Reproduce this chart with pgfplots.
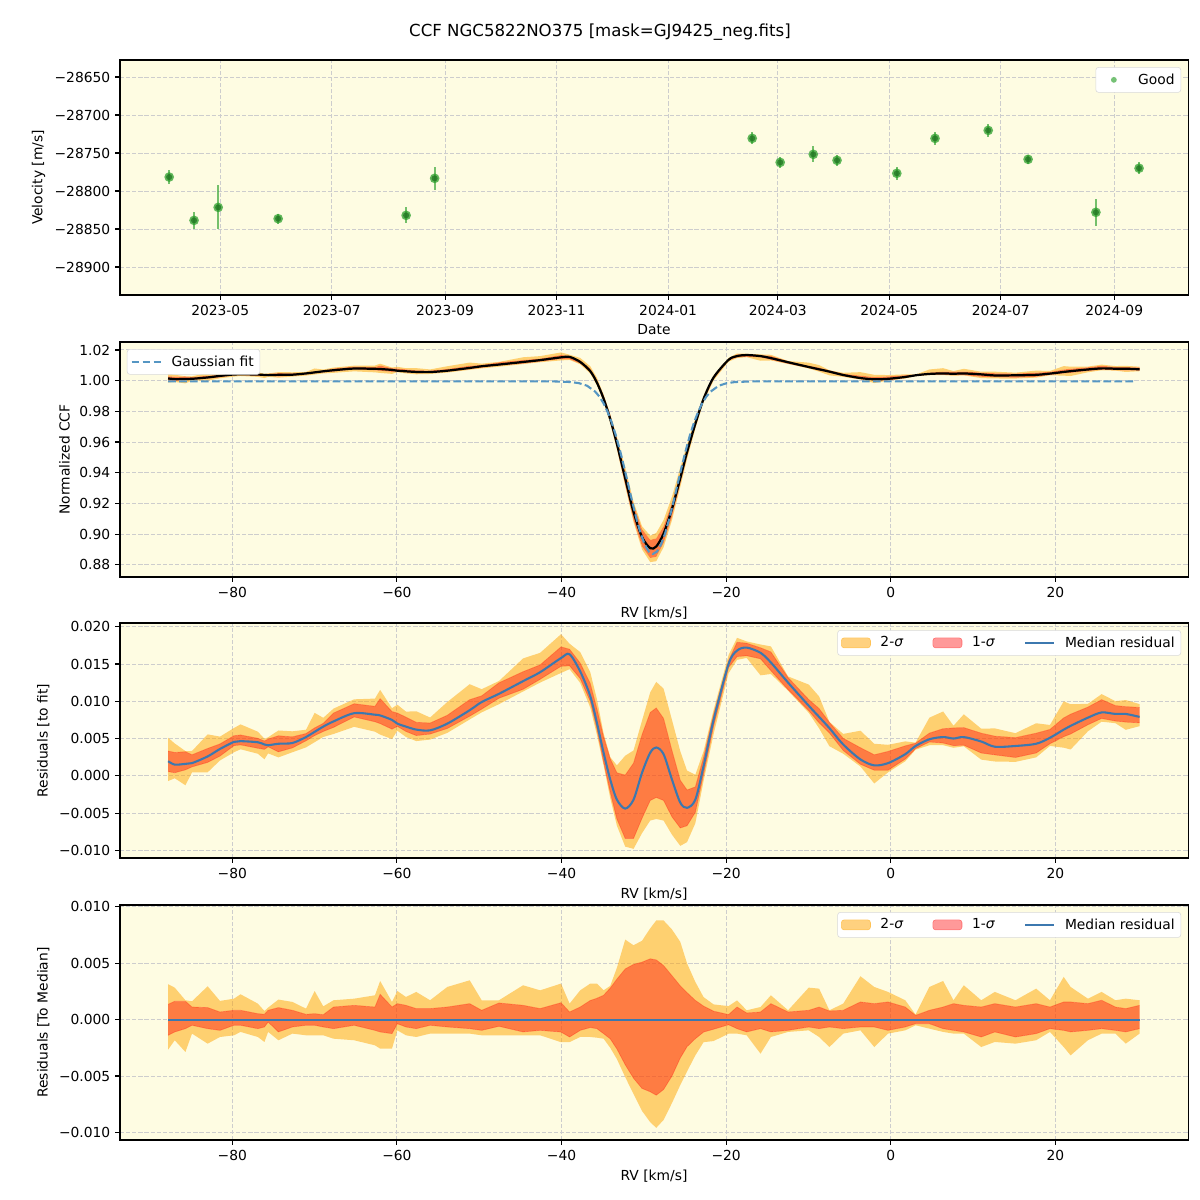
\documentclass[border=0pt]{standalone}
\usepackage{fontspec}
\setmainfont{DejaVu Sans}
\usepackage{pgfplots}
\pgfplotsset{compat=1.18}
\usepackage{pgfplotstable}

\definecolor{bgy}{RGB}{254,252,226}
\definecolor{gridc}{RGB}{205,205,205}
\definecolor{mplgreen}{RGB}{44,160,44}
\definecolor{medblue}{RGB}{60,120,175}
\definecolor{fitblue}{RGB}{85,150,195}
\definecolor{mplorange}{RGB}{255,165,0}
\definecolor{midc}{RGB}{255,71,0}

\pgfplotstableread{
d v e
92.1 -28781.6 9
105.7 -28838.6 11
118.9 -28821.5 29
151.7 -28836.4 6.6
221.7 -28832.0 10.5
237.3 -28783.3 15
411.0 -28730.7 8
426.3 -28762.3 7.7
444.4 -28751.7 10.3
457.4 -28759.6 7.5
490.1 -28776.7 8.6
511.0 -28730.7 8.3
540.1 -28720.2 9
561.9 -28758.3 5.7
599.0 -28828.0 18
622.6 -28770.0 7.9
}\vel

\pgfplotstableread{
x med u2 u1 l1 l2 g
-87.8 1.96 3.14 1.36 -1.39 -2.66 0.9995
-87.0 1.5 2.84 1.63 -1.09 -1.83 0.9995
-85.7 1.6 1.72 1.63 -0.80 -2.87 0.9995
-84.9 1.7 1.63 1.12 -0.50 -1.24 0.9995
-83.0 2.6 2.96 1.07 -0.80 -2.13 0.9995
-81.5 3.6 1.66 0.68 -0.95 -1.54 0.9995
-79.8 4.55 1.86 0.83 -0.50 -1.39 0.9995
-79.0 4.65 2.25 0.83 -0.50 -1.09 0.9995
-76.9 4.5 1.42 0.53 -0.80 -1.54 0.9995
-76.1 4.2 0.77 0.47 -0.65 -1.98 0.9995
-75.65 4.1 1.07 0.83 -0.21 -1.09 0.9995
-74.4 4.3 1.78 1.07 -1.09 -1.83 0.9995
-72.7 4.4 1.57 0.83 -0.65 -1.24 0.9995
-71.05 5.2 0.98 0.47 -0.50 -1.39 0.9995
-70.0 5.9 2.54 0.53 -0.50 -1.39 0.9995
-68.95 6.6 1.18 0.44 -0.65 -1.39 0.9995
-67.7 7.3 1.72 1.12 -0.80 -1.69 0.9995
-65.2 8.4 1.86 1.27 -0.50 -1.83 0.9995
-62.67 8.2 2.16 1.12 -0.95 -2.28 0.9995
-62.04 8.1 3.43 2.25 -1.09 -2.57 0.9995
-60.6 7.5 1.57 1.12 -1.24 -2.57 0.9995
-59.95 7.0 2.54 1.42 -0.36 -0.95 0.9995
-58.9 6.6 2.01 1.27 -0.65 -1.39 0.9995
-57.65 6.2 2.46 0.98 -0.80 -1.54 0.9995
-55.97 6.1 1.72 0.98 -0.50 -1.24 0.9995
-53.88 7.0 2.90 1.12 -0.65 -1.24 0.9995
-51.16 8.8 3.49 1.42 -0.80 -1.24 0.9995
-49.7 9.9 1.72 0.83 -0.95 -1.39 0.9995
-47.6 11.0 1.72 1.48 -0.59 -1.39 0.9995
-44.67 12.7 3.05 1.27 -1.09 -1.39 0.9995
-42.6 13.9 2.60 0.98 -0.95 -1.39 0.9995
-40.06 15.8 3.2 1.5 -1.1 -2.0 0.9994
-39.02 16.3 1.42 0.68 -1.54 -1.99 0.9992
-37.73 14.0 2.6 1.12 -0.95 -1.54 0.9982
-36.51 10.7 3.2 1.7 -0.7 -1.54 0.9955
-35.70 7.1 3.2 1.9 -0.8 -1.6 0.9916
-34.89 3.1 2.6 2.16 -1.24 -1.69 0.9852
-34.08 -0.5 3.0 2.8 -1.7 -2.5 0.9754
-33.27 -3.2 4.6 3.6 -2.6 -3.5 0.9620
-32.26 -4.4 7.1 4.5 -4.0 -5.1 0.9407
-31.25 -3.2 6.6 4.9 -5.2 -6.6 0.9176
-30.22 0.4 7.0 5.1 -6.1 -8.1 0.8977
-29.22 3.1 8.1 5.4 -6.4 -9.1 0.8877
-28.49 3.8 8.8 5.3 -6.7 -9.6 0.8881
-27.60 2.9 8.8 4.8 -6.2 -8.9 0.8974
-26.58 -0.5 8.0 3.9 -5.0 -7.4 0.9169
-25.57 -3.6 6.9 3.0 -3.4 -5.8 0.9400
-24.75 -4.3 5.0 2.4 -2.4 -4.6 0.9577
-23.74 -3.2 3.34 1.71 -1.69 -3.17 0.9751
-22.74 1.3 2.0 1.2 -1.1 -2.0 0.9868
-21.52 7.5 1.35 0.75 -0.85 -1.9 0.9946
-19.7 15.0 1.2 0.45 -0.45 -1.24 0.9986
-18.67 16.8 1.71 1.12 -0.8 -1.24 0.9992
-17.5 17.2 0.83 0.59 -1.09 -1.39 0.9995
-15.82 16.5 1.12 0.68 -0.80 -3.02 0.9995
-14.56 15.2 2.16 1.42 -1.09 -1.54 0.9995
-12.47 12.5 0.83 0.68 -0.95 -1.09 0.9995
-9.96 9.4 2.84 0.83 -0.65 -0.95 0.9995
-8.7 7.9 2.75 1.12 -0.80 -1.54 0.9995
-7.45 6.4 0.83 0.77 -0.65 -2.43 0.9995
-5.77 4.2 1.42 0.83 -0.80 -1.24 0.9995
-3.68 2.2 3.85 1.57 -0.65 -0.95 0.9995
-2.0 1.4 2.90 1.42 -0.65 -2.43 0.9995
-0.33 1.7 2.46 1.57 -0.95 -1.24 0.9995
1.77 2.9 1.72 1.12 -0.65 -0.95 0.9995
3.02 4.0 0.45 0.38 -0.36 -0.50 0.9995
4.7 4.9 2.90 0.83 -0.36 -0.80 0.9995
6.37 5.2 3.43 1.12 -0.80 -1.09 0.9995
7.63 5.0 1.72 1.42 -0.95 -1.24 0.9995
8.88 5.2 3.05 1.27 -1.09 -1.24 0.9995
11.0 4.6 1.72 1.12 -1.54 -2.43 0.9995
12.65 3.9 2.46 1.42 -1.09 -1.98 0.9995
15.16 4.0 1.72 1.12 -1.54 -2.13 0.9995
17.67 4.3 2.75 1.42 -1.24 -1.83 0.9995
19.35 5.1 1.72 1.12 -0.80 -1.09 0.9995
21.02 6.2 3.79 1.57 -0.95 -2.43 0.9995
21.86 6.7 2.90 1.57 -1.09 -3.17 0.9995
23.96 7.8 1.86 1.42 -0.95 -1.83 0.9995
25.63 8.5 2.46 1.72 -0.80 -1.24 0.9995
27.3 8.3 1.72 1.12 -0.95 -1.24 0.9995
28.56 8.3 1.86 0.98 -1.09 -2.13 0.9995
30.24 7.9 1.72 1.27 -0.80 -1.24 0.9995
}\resid

\pgfplotstableread{
x v
-87.8 0.9995
-40.9 0.9995
-38.9 0.9991
-37.9 0.9984
-36.9 0.9967
-35.9 0.9928
-35.4 0.9896
-34.9 0.9853
-34.4 0.9797
-33.9 0.9727
-33.4 0.9644
-32.9 0.9546
-32.4 0.9438
-31.9 0.9324
-31.4 0.9209
-30.9 0.9101
-30.4 0.9006
-29.9 0.8933
-29.4 0.8886
-28.9 0.8870
-28.4 0.8886
-27.9 0.8933
-27.4 0.9006
-26.9 0.9101
-26.4 0.9209
-25.9 0.9324
-25.4 0.9438
-24.9 0.9546
-24.4 0.9644
-23.9 0.9727
-23.4 0.9797
-22.9 0.9853
-22.4 0.9896
-21.9 0.9928
-20.9 0.9967
-19.9 0.9984
-18.9 0.9991
-16.9 0.9995
29.8 0.9995
}\gfit

\pgfplotsset{
  every axis/.append style={
    scale only axis, width=769bp, height=169.2bp,
    anchor=north west,
    axis background/.style={fill=bgy},
    grid=major,
    major grid style={gridc, dash pattern=on 3bp off 1.4bp, line width=0.7bp},
    tick align=outside, xtick pos=left, ytick pos=left,
    scaled x ticks=false, scaled y ticks=false,
    major tick length=3.5bp,
    every tick/.style={black, line width=0.8bp},
    axis line style={line width=0.8bp},
    tick label style={font=\fontsize{10}{12}\selectfont},
    label style={font=\fontsize{10}{12}\selectfont},
    legend style={font=\fontsize{10}{12}\selectfont, draw=gray!30, rounded corners=2bp, fill=white, inner sep=2.5bp,
      /tikz/every odd column/.append style={column sep=5bp}},
    legend cell align=left,
    /pgf/number format/assume math mode=true,
  },
  rvaxis/.style={
    xmin=-93.65, xmax=36.13,
    xtick={-80,-60,-40,-20,0,20},
    xticklabels={−80,−60,−40,−20,0,20},
    xlabel={RV [km/s]},
  },
  reslegend/.style={
    legend columns=3,
    legend style={at={(0.9935,0.97)}, anchor=north east,
      /tikz/every even column/.append style={column sep=19bp}},
  },
  myarea/.style={legend image code/.code={\draw[##1] (0bp,-3.6bp) rectangle (21bp,3.6bp);}},
  myline/.style={legend image code/.code={\draw[##1] (0bp,0bp) -- (21bp,0bp);}},
  mydot/.style={legend image code/.code={\path[draw=none, fill=none] (0bp,0bp) -- (21bp,0bp); \path[draw=none, fill=mplgreen, fill opacity=0.65] (10.5bp,0bp) circle (2.1bp);}},
  band2/.style={draw=none, fill=mplorange, fill opacity=0.5, stack plots=y},
  band1/.style={draw=none, fill=midc, fill opacity=0.7, stack plots=y},
  edge1/.style={red, draw opacity=0.3, line width=0.5bp},
}

\begin{document}
\begin{tikzpicture}
\useasboundingbox (0,0) rectangle (864bp,-864bp);
\node[font=\fontsize{12}{14}\selectfont] at (432bp,-23.5bp) {CCF NGC5822NO375 [mask=GJ9425\_neg.fits]};

% Panel 1
\begin{axis}[at={(86.4bp,-43.2bp)},
  xmin=65.2, xmax=649.4, ymin=-28936.8, ymax=-28627.6,
  xtick={120,181,243,304,365,425,486,547,609},
  xticklabels={2023-05,2023-07,2023-09,2023-11,2024-01,2024-03,2024-05,2024-07,2024-09},
  ytick={-28900,-28850,-28800,-28750,-28700,-28650},
  yticklabels={−28900,−28850,−28800,−28750,−28700,−28650},
  xlabel={Date}, ylabel={Velocity [m/s]},
  legend style={at={(0.9935,0.97)}, anchor=north east},
]
\addlegendimage{mydot}
\addlegendentry{Good}
\addplot[only marks, mark=*, mark size=3.5bp, color=mplgreen,
  mark options={fill=mplgreen, fill opacity=0.75, draw opacity=0},
  error bars/.cd, y dir=both, y explicit, error mark=none,
  error bar style={mplgreen, opacity=0.65, line width=1.5bp}]
  table[x=d, y=v, y error=e]{\vel};
\addplot[only marks, mark=*, mark size=2.2bp, color=mplgreen!70!black,
  mark options={fill=mplgreen!70!black, fill opacity=0.7, draw opacity=0}]
  table[x=d, y=v]{\vel};
\end{axis}

% Panel 2
\begin{axis}[at={(86.4bp,-246.24bp)}, rvaxis,
  ymin=0.872, ymax=1.0252,
  ytick={0.88,0.90,0.92,0.94,0.96,0.98,1.00,1.02},
  yticklabels={0.88,0.90,0.92,0.94,0.96,0.98,1.00,1.02},
  ylabel={Normalized CCF},
  legend style={at={(0.0065,0.97)}, anchor=north west},
]
\addlegendimage{myline, fitblue, line width=1.5bp, dash pattern=on 5.5bp off 2.4bp}
\addlegendentry{Gaussian fit}
\addplot[draw=none, stack plots=y] table[x=x, y expr={\thisrow{g}+((\thisrow{med})+(\thisrow{l2}))/1000}]{\resid};
\addplot[band2] table[x=x, y expr={((\thisrow{l1})-(\thisrow{l2}))/1000}]{\resid} \closedcycle;
\addplot[band1] table[x=x, y expr={((\thisrow{u1})-(\thisrow{l1}))/1000}]{\resid} \closedcycle;
\addplot[band2] table[x=x, y expr={((\thisrow{u2})-(\thisrow{u1}))/1000}]{\resid} \closedcycle;
\addplot[black, line width=1.6bp, smooth] table[x=x, y expr={\thisrow{g}+(\thisrow{med})/1000}]{\resid};
\addplot[fitblue, line width=1.5bp, dash pattern=on 5.5bp off 2.4bp] table[x=x, y=v]{\gfit};
\end{axis}

% Panel 3
\begin{axis}[at={(86.4bp,-448.56bp)}, rvaxis, reslegend,
  ymin=-0.01103, ymax=0.0205,
  ytick={-0.010,-0.005,0,0.005,0.010,0.015,0.020},
  yticklabels={−0.010,−0.005,0.000,0.005,0.010,0.015,0.020},
  ylabel={Residuals [to fit]},
]
\addlegendimage{myarea, draw=mplorange, draw opacity=0.5, fill=mplorange, fill opacity=0.5}
\addlegendentry{2-\textit{σ}}
\addlegendimage{myarea, draw=red, draw opacity=0.4, fill=red, fill opacity=0.4}
\addlegendentry{1-\textit{σ}}
\addlegendimage{myline, medblue, line width=1.5bp}
\addlegendentry{Median residual}
\addplot[draw=none, stack plots=y] table[x=x, y expr={((\thisrow{med})+(\thisrow{l2}))/1000}]{\resid};
\addplot[band2] table[x=x, y expr={((\thisrow{l1})-(\thisrow{l2}))/1000}]{\resid} \closedcycle;
\addplot[band1] table[x=x, y expr={((\thisrow{u1})-(\thisrow{l1}))/1000}]{\resid} \closedcycle;
\addplot[band2] table[x=x, y expr={((\thisrow{u2})-(\thisrow{u1}))/1000}]{\resid} \closedcycle;
\addplot[edge1] table[x=x, y expr={((\thisrow{med})+(\thisrow{u1}))/1000}]{\resid};
\addplot[edge1] table[x=x, y expr={((\thisrow{med})+(\thisrow{l1}))/1000}]{\resid};
\addplot[medblue, line width=1.5bp, smooth] table[x=x, y expr={(\thisrow{med})/1000}]{\resid};
\end{axis}

% Panel 4
\begin{axis}[at={(86.4bp,-651.6bp)}, rvaxis, reslegend,
  ymin=-0.01068, ymax=0.01017,
  ytick={-0.010,-0.005,0,0.005,0.010},
  yticklabels={−0.010,−0.005,0.000,0.005,0.010},
  ylabel={Residuals [To Median]},
]
\addlegendimage{myarea, draw=mplorange, draw opacity=0.5, fill=mplorange, fill opacity=0.5}
\addlegendentry{2-\textit{σ}}
\addlegendimage{myarea, draw=red, draw opacity=0.4, fill=red, fill opacity=0.4}
\addlegendentry{1-\textit{σ}}
\addlegendimage{myline, medblue, line width=1.5bp}
\addlegendentry{Median residual}
\addplot[draw=none, stack plots=y] table[x=x, y expr={(\thisrow{l2})/1000}]{\resid};
\addplot[band2] table[x=x, y expr={((\thisrow{l1})-(\thisrow{l2}))/1000}]{\resid} \closedcycle;
\addplot[band1] table[x=x, y expr={((\thisrow{u1})-(\thisrow{l1}))/1000}]{\resid} \closedcycle;
\addplot[band2] table[x=x, y expr={((\thisrow{u2})-(\thisrow{u1}))/1000}]{\resid} \closedcycle;
\addplot[edge1] table[x=x, y expr={(\thisrow{u1})/1000}]{\resid};
\addplot[edge1] table[x=x, y expr={(\thisrow{l1})/1000}]{\resid};
\addplot[medblue, line width=1.5bp] coordinates {(-87.8,0) (30.24,0)};
\end{axis}
\end{tikzpicture}
\end{document}
